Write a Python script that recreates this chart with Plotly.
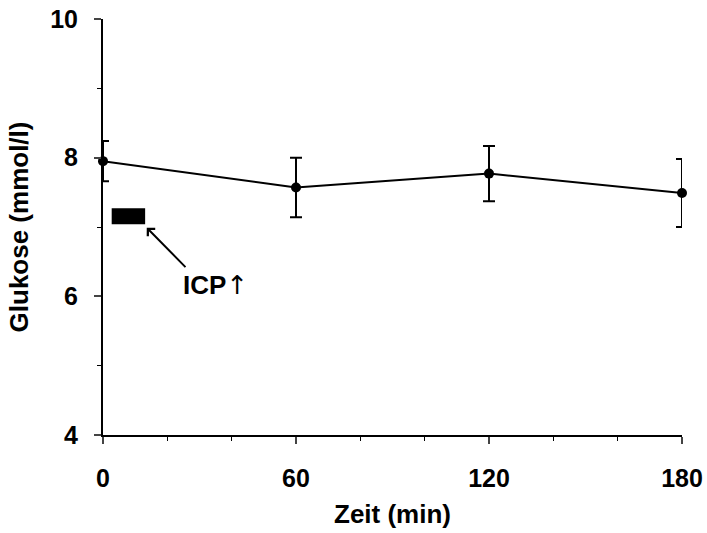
import plotly.graph_objects as go

# Data
zeit = [0, 60, 120, 180]
glukose = [7.95, 7.57, 7.77, 7.49]
fehler = [0.29, 0.43, 0.40, 0.49]

x_ticks = [0, 60, 120, 180]
y_ticks = [4, 6, 8, 10]

icp_start, icp_end = 2.7, 13.1
icp_low, icp_high = 7.04, 7.27

FONT = "Liberation Sans, Arial, sans-serif"

fig = go.Figure()
fig.add_trace(go.Scatter(
    x=zeit, y=glukose, mode="lines+markers",
    line=dict(color="black", width=2),
    marker=dict(color="black", size=10),
    error_y=dict(type="data", array=fehler, visible=True, color="black",
                 thickness=2, width=6),
    showlegend=False, cliponaxis=False,
))

fig.add_shape(type="rect", xref="x", yref="y",
              x0=icp_start, x1=icp_end, y0=icp_low, y1=icp_high,
              fillcolor="black", line=dict(width=0))

fig.add_annotation(x=13.6, y=6.99, ax=26.1, ay=6.40, xref="x", yref="y",
                   axref="x", ayref="y", text="", showarrow=True,
                   arrowhead=4, arrowsize=1, arrowwidth=2, arrowcolor="black")
fig.add_annotation(x=35.1, y=6.16, xref="x", yref="y",
                   text="<b>ICP</b><span style='font-family:DejaVu Sans'>↑</span>",
                   showarrow=False, font=dict(family=FONT, size=26, color="black"))

fig.update_xaxes(range=[0, 180], tickvals=x_ticks, ticktext=[f"<b>{v}</b>" for v in x_ticks],
                 ticks="outside", ticklen=7, automargin=False, ticklabelstandoff=13,
                 tickwidth=2, showline=True, linewidth=2, linecolor="black",
                 showgrid=False, zeroline=False,
                 tickfont=dict(family=FONT, size=25, color="black"),
                 minor=dict(dtick=20, ticks="outside", ticklen=4, tickwidth=1,
                            tickcolor="black"),
                 title=dict(text="<b>Zeit (min)</b>",
                            font=dict(family=FONT, size=26, color="black"),
                            standoff=14))
fig.update_yaxes(range=[4, 10], tickvals=y_ticks, ticktext=[f"<b>{v}</b>" for v in y_ticks],
                 ticks="outside", ticklen=7, automargin=False, ticklabelstandoff=11,
                 tickwidth=2, showline=True, linewidth=2, linecolor="black",
                 showgrid=False, zeroline=False,
                 tickfont=dict(family=FONT, size=25, color="black"),
                 minor=dict(dtick=1, ticks="outside", ticklen=4, tickwidth=1,
                            tickcolor="black"),
                 title=dict(text="<b>Glukose (mmol/l)</b>",
                            font=dict(family=FONT, size=26, color="black"),
                            standoff=14))
fig.update_layout(
    width=707, height=533,
    margin=dict(l=103, r=25, t=19, b=98),
    plot_bgcolor="white", paper_bgcolor="white",
    font=dict(family=FONT, color="black"),
)

fig.write_html("out.html", config={"displayModeBar": False},
               post_script="document.body.style.margin='0px';")
